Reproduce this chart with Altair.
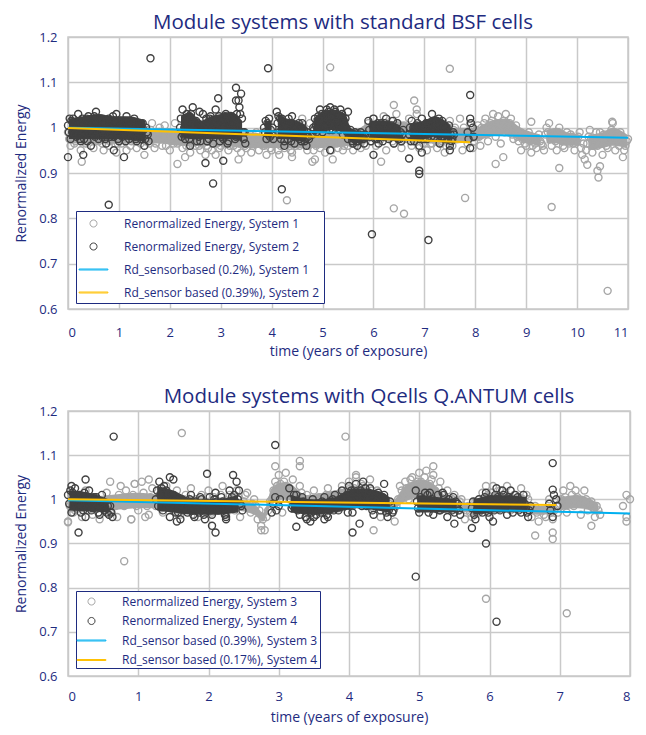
import altair as alt
import pandas as pd

NAVY = "#1E2B80"
FONT = "Open Sans"
GRID = "#C9C9C9"

# ---------------- top panel: standard BSF cells ----------------
TOP_TITLE = "Module systems with standard BSF cells"
TOP_SERIES = [
    "Renormalized Energy, System 1",
    "Renormalized Energy, System 2",
    "Rd_sensorbased (0.2%), System 1",
    "Rd_sensor based (0.39%), System 2",
]
STEP = 0.05  # sampling step of each listed run of energy values (years)

# System 1 (light grey): runs of values (start year, values)
SYS1_SEGMENTS = [
    (0.0, [0.99, 0.96, 1.01, 0.97, 1.0, 0.95, 0.99, 0.965, 1.015, 0.975, 0.955, 1.0, 0.97, 0.985, 0.95, 1.01, 0.96, 0.99, 0.975, 0.945,
           1.0, 0.965, 0.985, 0.95, 1.005, 0.97, 0.99, 0.955, 1.0, 0.975, 0.94, 0.995, 0.965, 1.01, 0.955, 0.985, 1.0, 0.96, 1.005, 0.975,
           0.95, 0.99, 1.01, 0.965, 0.985, 0.955, 1.0, 0.97, 0.945, 0.985, 0.96, 0.995, 0.95, 0.975, 0.99, 0.955, 0.98, 0.965, 0.94, 0.985,
           0.96, 0.995, 0.97, 0.95, 0.985, 0.96, 1.0, 0.975, 0.945, 0.99, 0.955, 0.98, 0.945, 0.97, 0.99, 0.95, 0.975, 0.96, 0.94, 0.98,
           0.95, 0.985, 0.965, 0.94, 0.975, 0.955, 0.99, 0.96, 0.945, 0.98, 1.0, 0.96, 1.02, 0.975, 0.95, 1.01, 0.965, 0.93, 0.99, 0.955,
           0.985, 0.945, 1.0, 0.965, 0.93, 0.98, 0.955, 0.995, 0.95, 0.975, 0.96, 0.985, 0.95, 0.97, 0.99, 0.955, 0.975, 0.96, 1.01, 0.97,
           1.02, 0.96, 1.0, 0.975, 1.025, 0.95, 0.99, 1.015, 0.965, 1.03, 0.985, 0.955, 1.005, 0.975, 1.02, 0.96, 0.99, 1.03, 0.955, 0.975,
           0.995, 0.95, 0.98, 0.965, 1.0, 0.955, 0.985, 0.97, 0.945, 0.99, 1.015, 0.96, 1.0, 0.975, 1.02, 0.95, 0.99, 0.965, 1.01, 0.955,
           0.985, 1.005, 0.96, 0.995, 1.02, 0.97, 1.01, 1.03, 0.98, 1.025, 0.965, 1.015, 1.03, 0.99, 1.02, 0.975, 1.005, 0.97, 0.95, 0.985,
           0.96, 0.99, 0.945, 0.975, 0.955, 0.985, 0.965, 0.95, 1.0, 1.01, 0.96, 0.985, 0.95, 1.0, 0.97, 0.955, 0.99, 0.965, 0.98, 0.95,
           0.97, 0.99, 0.94, 0.93, 0.965, 0.995, 0.945, 0.975, 0.96, 0.99, 0.94, 0.975, 0.955, 0.98, 1.01, 0.95, 0.97, 0.99, 0.935, 0.96,
           0.975]),
    (0.025, [0.975, 0.985, 0.965, 1.005, 0.98, 0.99, 0.97, 1.0, 0.98, 0.99, 0.97, 0.98, 1.005, 0.965, 0.995, 0.98, 0.97, 1.005, 0.985, 0.965,
             0.98, 0.995, 0.97, 0.985, 0.96, 0.99, 0.98, 0.995, 0.965, 0.99, 0.97, 0.98, 0.995, 0.975, 0.965, 0.99, 0.975, 0.985, 0.96, 0.99,
             0.975, 0.965, 0.98, 0.99, 0.97, 0.975, 0.96, 0.985, 0.965, 0.97, 0.98, 0.96, 0.975, 0.985, 0.96, 0.97, 0.95, 0.975, 0.965, 0.955,
             0.975, 0.965, 0.985, 0.96, 0.97, 0.98, 0.955, 0.965, 0.975, 0.96, 0.97, 0.985, 0.96, 0.98, 0.965, 0.975, 0.96, 0.985, 0.97, 0.955,
             0.965, 0.975, 0.95, 0.96, 0.985, 0.965, 0.975, 0.95, 0.97, 0.96, 0.99, 0.975, 1.0, 0.985, 0.96, 0.975, 0.95, 0.96, 0.975, 0.965,
             0.97, 0.96, 0.985, 0.95, 0.975, 0.965, 0.98, 0.97, 0.96, 0.985, 0.97, 0.965, 0.975, 0.98, 0.965, 0.97, 0.985, 0.975, 0.99, 0.985,
             0.99, 1.005, 0.98, 0.995, 1.01, 0.985, 1.0, 0.97, 0.995, 1.01, 0.97, 0.99, 0.98, 1.0, 0.985, 0.995, 0.975, 1.005, 0.985, 0.965,
             0.975, 0.985, 0.965, 0.98, 0.97, 0.99, 0.965, 0.975, 0.96, 0.97, 0.985, 0.995, 0.975, 0.99, 0.985, 1.0, 0.975, 0.99, 0.98, 0.97,
             0.995, 0.98, 1.0, 1.01, 1.0, 0.99, 1.015, 1.0, 1.01, 0.995, 1.005, 0.99, 1.0, 1.01, 0.985, 0.995, 0.98, 0.99, 0.975, 0.965,
             0.975, 0.97, 0.96, 0.965, 0.975, 0.97, 0.96, 0.985, 0.99, 0.975, 0.98, 0.97, 0.99, 0.98, 0.96, 0.975, 0.97, 0.985, 0.965, 0.97,
             0.98, 0.955, 0.965, 0.95, 0.98, 0.975, 0.96, 0.99, 0.975, 0.965, 0.985, 0.96, 0.97, 0.995, 0.975, 0.985, 0.96, 0.975, 0.95, 0.97]),
]
SYS1_OUT_T = [0.27, 2.15, 2.3, 2.7, 3.35, 4.3, 4.4, 4.8, 5.15, 6.15, 6.4, 6.6, 6.4, 6.8, 6.85, 7.5, 7.8, 8.4, 8.55, 9.1, 9.5, 9.65, 10.2, 10.4, 10.42, 10.45, 10.6, 10.69]
SYS1_OUT_V = [0.925, 0.92, 0.935, 0.94, 0.93, 0.84, 0.935, 0.925, 1.133, 0.925, 0.822, 0.81, 1.05, 1.06, 1.04, 1.13, 0.845, 0.92, 0.935, 1.013, 0.825, 0.911, 0.918, 0.905, 0.89, 0.915, 0.64, 1.013]
# dense core of the System 1 cloud: (years, lower edge, upper edge)
SYS1_CORE = [
    ([0.0, 0.5, 1.0, 1.5, 1.8, 2.2, 2.6, 3.0, 3.5, 4.0, 4.5, 5.0, 5.5, 5.9, 6.3, 6.7, 7.0, 7.5, 8.0, 8.3, 8.6, 8.9, 9.28],
     [0.965, 0.965, 0.965, 0.965, 0.965, 0.96, 0.96, 0.96, 0.955, 0.955, 0.955, 0.955, 0.96, 0.97, 0.97, 0.97, 0.965, 0.965, 0.97, 0.98, 0.985, 0.97, 0.96],
     [1.0, 1.0, 0.995, 0.995, 1.0, 0.995, 0.99, 0.99, 0.99, 0.985, 1.0, 0.99, 0.985, 1.01, 1.015, 1.01, 0.99, 1.0, 1.0, 1.015, 1.02, 1.0, 0.985]),
    ([9.4, 9.6, 9.8, 10.05], [0.965, 0.965, 0.96, 0.96], [0.995, 1.0, 0.99, 0.985]),
    ([10.22, 10.5, 10.7, 10.98], [0.95, 0.955, 0.96, 0.955], [0.985, 0.99, 1.0, 0.985]),
]

# System 2 (dark grey): runs of values (start year, values)
SYS2_SEGMENTS = [
    (0.0, [1.005, 0.975, 1.02, 0.99, 1.03, 0.97, 1.01, 0.985, 1.025, 0.96, 1.0, 1.035, 0.975, 1.015, 0.99, 0.965, 1.02, 1.0, 0.98, 1.03,
           0.97, 1.01, 0.985, 1.025, 0.975, 0.995, 1.02, 0.97, 1.005, 0.98, 0.96, 0.99]),
    (0.017, [0.99, 1.015, 1.0, 0.98, 1.01, 0.995, 0.975, 1.02, 0.99, 1.005, 1.025, 0.985, 1.0, 0.98, 1.01, 0.995, 1.005, 0.985, 1.015, 0.995,
             1.0, 0.98, 1.015, 0.995, 1.005, 0.985, 0.98, 1.0, 0.99, 1.01, 0.975, 0.985]),
    (0.033, [1.02, 0.99, 0.985, 1.01, 0.975, 1.02, 1.0, 0.97, 1.01, 0.99, 0.98, 1.01, 1.02, 0.99, 0.975, 1.01, 0.98, 1.025, 0.995, 0.975,
             1.015, 0.995, 0.97, 1.005, 0.99, 1.01, 0.975, 0.99, 0.975, 0.995, 1.0, 0.97]),
    (2.2, [1.0, 1.04, 0.975, 1.02, 0.96, 1.045, 0.99, 1.01, 0.97, 1.03, 0.985, 1.0, 1.025, 0.965, 1.04, 0.99, 1.015, 0.975, 1.03, 0.97,
           1.005, 1.02, 0.98, 1.06, 1.075, 0.975]),
    (2.217, [1.02, 0.985, 1.01, 0.995, 1.03, 1.0, 1.015, 0.98, 1.005, 0.99, 1.02, 0.975, 1.0, 1.015, 0.985, 1.025, 0.98, 1.005, 0.99, 1.015,
             0.985, 1.0, 1.03, 1.045, 1.02, 0.99]),
    (2.233, [0.98, 1.0, 1.03, 0.975, 0.99, 1.015, 0.97, 1.035, 0.99, 1.0, 0.97, 1.02, 0.985, 0.995, 1.01, 0.97, 1.0, 1.025, 0.965, 0.995,
             1.02, 0.975, 1.005, 1.03, 0.99, 0.965]),
    (3.85, [1.0, 0.975, 1.02, 0.985]),
    (3.867, [0.99, 1.01, 0.98, 1.0]),
    (3.883, [1.015, 0.985, 0.995, 0.975]),
    (4.1, [1.035, 0.99, 1.02, 0.97, 1.005, 0.985, 1.025, 0.965, 1.0, 0.975, 1.01, 0.97, 0.99]),
    (4.117, [1.01, 1.02, 0.985, 1.0, 0.975, 1.01, 0.99, 1.0, 0.98, 0.995, 0.985, 0.975, 0.98]),
    (4.133, [1.025, 0.975, 1.0, 0.99, 1.02, 0.97, 1.0, 0.985, 1.01, 0.97, 0.995, 0.96, 0.975]),
    (4.8, [0.985, 1.02, 1.0, 1.04, 0.99, 1.03, 1.015, 1.045, 0.995, 1.035, 1.01, 1.04, 0.985, 1.02, 0.975, 0.995, 0.965, 0.985, 0.97, 0.99, 0.975]),
    (4.817, [1.0, 1.005, 1.025, 1.01, 1.02, 1.005, 1.035, 1.01, 1.02, 1.0, 1.025, 1.005, 1.015, 1.0, 0.99, 0.98, 0.975, 0.97, 0.985, 0.975, 0.965]),
    (4.833, [0.995, 0.99, 1.015, 1.03, 1.0, 1.04, 0.995, 1.025, 1.04, 1.015, 0.995, 1.03, 1.0, 0.99, 0.985, 0.97, 0.99, 0.96, 0.975, 0.98, 0.985]),
    (5.9, [1.015, 0.97, 1.02, 0.99, 0.965, 1.01, 0.98, 1.02, 0.975, 1.005, 0.965, 0.995, 0.98, 0.97]),
    (5.917, [0.995, 0.985, 1.005, 0.975, 1.0, 0.99, 1.01, 0.985, 1.0, 0.98, 0.99, 1.01, 0.975, 0.985]),
    (5.933, [0.98, 1.005, 0.975, 1.01, 0.985, 0.97, 0.995, 1.0, 0.99, 1.015, 0.98, 0.975, 0.99, 0.995]),
    (6.7, [0.985, 1.015, 0.97, 1.0, 0.96, 1.02, 0.985, 0.975, 1.01, 1.03, 0.98, 1.0, 0.965, 1.015, 0.975, 0.99, 0.96, 0.975]),
    (6.717, [1.0, 0.99, 0.985, 1.01, 0.98, 1.0, 0.995, 1.01, 0.99, 1.005, 1.015, 0.985, 0.995, 0.98, 1.0, 0.975, 0.985, 0.99]),
    (6.733, [0.97, 1.0, 1.005, 0.98, 0.99, 0.975, 1.01, 0.995, 0.98, 1.0, 0.99, 1.02, 0.98, 1.0, 0.99, 1.005, 0.97, 0.985]),
    (7.85, [0.99, 0.955, 1.0]),
    (7.867, [0.975, 1.01, 0.98]),
]
SYS2_OUT_T = [0.0, 0.3, 0.8, 0.9, 1.1, 1.62, 2.7, 2.85, 3.05, 2.95, 3.3, 3.3, 3.93, 4.2, 4.25, 5.15, 5.5, 5.97, 6.0, 6.7, 6.9, 6.9, 6.95, 7.08, 7.9, 7.9, 7.5]
SYS2_OUT_V = [0.935, 0.94, 0.83, 0.95, 0.935, 1.153, 0.922, 0.877, 0.927, 1.065, 1.088, 1.06, 1.131, 0.864, 0.96, 0.95, 1.035, 0.765, 0.94, 0.932, 0.905, 0.898, 0.945, 0.752, 1.072, 1.02, 0.95]
SYS2_CORE = [
    ([0.02, 0.3, 0.6, 0.9, 1.2, 1.52], [0.975, 0.975, 0.975, 0.975, 0.973, 0.97], [1.02, 1.025, 1.03, 1.025, 1.025, 1.015]),
    ([2.22, 2.4, 2.6, 2.8, 3.0, 3.2, 3.42], [0.98, 0.975, 0.975, 0.975, 0.975, 0.975, 0.97], [1.025, 1.035, 1.015, 1.025, 1.03, 1.035, 1.015]),
    ([3.86, 4.0], [0.98, 0.98], [1.015, 1.015]),
    ([4.12, 4.3, 4.5, 4.68], [0.975, 0.975, 0.97, 0.97], [1.03, 1.02, 1.015, 1.005]),
    ([4.82, 5.0, 5.2, 5.45, 5.55, 5.78], [0.985, 0.99, 0.995, 0.985, 0.97, 0.965], [1.02, 1.035, 1.04, 1.03, 1.0, 0.99]),
    ([5.92, 6.2, 6.53], [0.975, 0.975, 0.97], [1.015, 1.015, 1.005]),
    ([6.72, 7.0, 7.2, 7.52], [0.97, 0.975, 0.98, 0.97], [1.01, 1.015, 1.025, 1.005]),
]

TOP_LINE1_T = [0.0, 11.0]
TOP_LINE1_V = [1.0, 0.978]
TOP_LINE2_T = [0.0, 7.9]
TOP_LINE2_V = [0.999, 0.968]

# ---------------- bottom panel: Q.ANTUM cells ----------------
BOT_TITLE = "Module systems with Qcells Q.ANTUM cells"
BOT_SERIES = [
    "Renormalized Energy, System 3",
    "Renormalized Energy, System 4",
    "Rd_sensor based (0.39%), System 3",
    "Rd_sensor based (0.17%), System 4",
]
SYS3_SEGMENTS = [
    (0.0, [0.95, 1.01, 0.975, 1.0, 0.96, 1.02, 0.985, 0.965, 1.005, 0.955, 0.99, 1.015, 0.97, 1.0, 0.96, 1.03, 0.985, 0.995, 0.955, 1.035,
           0.975, 1.04, 0.995, 0.965, 1.025, 0.985, 1.01, 0.97, 1.03, 0.995, 0.975, 1.02, 0.965, 1.0, 0.985, 1.025, 0.975, 0.96, 1.01, 0.99,
           1.02, 0.97, 1.0, 0.985, 1.03, 0.965, 1.01, 0.99, 1.02, 0.96, 0.995, 1.015, 0.97, 1.0, 0.955, 0.94, 0.93, 0.975, 1.0, 1.04,
           1.055, 1.02, 1.06, 1.0, 1.045, 0.99, 1.03, 0.975, 1.01, 0.96, 1.02, 0.985, 1.0, 0.97, 1.025, 0.99, 1.01, 0.98, 1.03, 1.0,
           1.04, 0.985, 1.05, 1.01, 1.03, 0.995, 1.045, 0.98, 1.02, 0.96, 0.995, 0.975, 0.985, 0.95, 1.0, 1.02, 1.04, 1.0, 1.05, 1.03,
           1.06, 1.015, 1.065, 1.035, 1.055, 1.0, 1.04, 0.98, 1.02, 0.99, 1.01, 0.975, 1.0, 0.955, 0.985, 0.96, 0.995, 0.97, 1.015, 1.03,
           1.0, 1.03, 0.985, 1.02, 0.995, 1.03, 0.975, 1.01, 0.99, 1.025, 0.98, 1.0, 0.96, 0.985, 0.95, 0.975, 0.96, 1.0, 0.955, 0.985,
           0.99, 1.02, 0.97, 1.03, 0.985, 1.005, 0.965, 1.02, 0.975, 0.995, 0.96, 0.975]),
    (0.025, [0.985, 0.97, 0.995, 0.98, 1.005, 0.975, 0.99, 1.0, 0.98, 0.995, 0.975, 0.985, 1.0, 0.985, 1.01, 0.99, 1.02, 1.0, 1.01, 0.985,
             1.0, 1.015, 0.985, 1.005, 0.99, 1.0, 0.98, 1.015, 0.99, 1.005, 0.99, 1.0, 0.985, 1.01, 0.995, 0.98, 1.0, 0.99, 0.975, 1.005,
             0.99, 1.005, 0.985, 1.01, 0.995, 0.985, 1.0, 0.975, 1.005, 0.985, 1.01, 0.98, 0.99, 0.985, 0.975, 0.955, 0.96, 0.995, 1.02, 1.03,
             1.035, 1.04, 1.025, 1.02, 1.01, 1.0, 1.015, 0.995, 0.985, 1.0, 0.995, 1.005, 0.985, 1.01, 1.0, 1.01, 0.995, 1.015, 1.01, 1.02,
             1.01, 1.025, 1.02, 1.035, 1.005, 1.015, 1.02, 1.005, 0.995, 0.985, 0.975, 0.99, 0.97, 0.985, 1.03, 1.01, 1.025, 1.045, 1.02, 1.04,
             1.04, 1.05, 1.025, 1.045, 1.02, 1.025, 1.01, 1.0, 1.005, 1.0, 0.99, 0.995, 0.985, 0.975, 0.97, 0.985, 0.98, 0.99, 1.0, 1.01,
             1.015, 1.005, 1.01, 1.0, 1.015, 1.005, 1.0, 0.995, 1.005, 1.0, 1.01, 0.98, 0.975, 0.97, 0.975, 0.965, 0.98, 0.97, 0.975, 0.97,
             1.0, 1.005, 0.995, 1.01, 1.02, 0.99, 0.995, 1.0, 0.99, 0.98, 0.985, 0.965]),
    (7.9, [0.985, 0.96, 1.0]),
]
SYS3_OUT_T = [0.0, 0.6, 0.8, 0.9, 0.95, 1.1, 1.15, 1.62, 2.75, 2.95, 3.05, 3.3, 3.3, 3.95, 4.1, 4.35, 5.2, 5.95, 6.65, 6.9, 6.9, 7.1, 7.45, 7.95, 7.95]
SYS3_OUT_V = [0.948, 1.04, 0.86, 0.955, 1.035, 0.96, 1.045, 1.15, 0.93, 1.075, 0.97, 1.075, 1.087, 1.142, 1.055, 0.93, 1.075, 0.775, 0.918, 0.91, 0.925, 0.742, 0.94, 1.01, 0.95]
SYS3_CORE = [
    ([0.0, 0.6, 1.0, 1.3, 1.8, 2.4, 2.65, 2.78, 2.9, 3.1, 3.4, 3.8, 4.2, 4.55, 4.8, 5.0, 5.2, 5.4, 5.7, 6.0, 6.4, 6.7, 6.95],
     [0.97, 0.975, 0.98, 0.98, 0.98, 0.975, 0.965, 0.95, 0.99, 1.0, 0.98, 0.985, 0.995, 0.97, 0.995, 1.005, 1.0, 0.985, 0.97, 0.985, 0.98, 0.965, 0.97],
     [1.0, 1.01, 1.015, 1.01, 1.005, 1.0, 0.99, 0.97, 1.025, 1.04, 1.01, 1.02, 1.03, 0.985, 1.03, 1.045, 1.035, 1.005, 0.99, 1.015, 1.01, 0.985, 0.99]),
    ([7.0, 7.25, 7.55], [0.975, 0.98, 0.97], [1.005, 1.01, 0.99]),
]

SYS4_SEGMENTS = [
    (0.0, [1.01, 0.97, 1.025, 0.985, 1.0, 0.96, 1.02, 0.98, 1.005, 0.965, 0.99, 0.97, 0.985]),
    (0.017, [0.99, 1.015, 0.995, 1.01, 0.975, 1.0, 0.99, 1.005, 0.985, 0.995, 0.975, 0.985, 0.97]),
    (0.033, [1.02, 0.985, 1.005, 0.97, 1.015, 0.985, 0.975, 0.995, 0.97, 1.01, 0.98, 0.965, 0.96]),
    (1.25, [1.0, 1.04, 0.975, 1.02, 0.96, 1.01, 0.985, 0.955, 0.995, 0.97, 1.01, 0.96, 0.985, 1.0, 0.955, 0.99, 0.965, 1.015, 0.975, 0.995,
            0.96, 1.02, 0.98, 1.04, 0.99]),
    (1.267, [1.02, 1.01, 1.03, 0.99, 1.0, 0.985, 0.97, 1.0, 0.98, 0.99, 0.975, 0.995, 0.97, 0.985, 0.975, 1.005, 0.98, 0.995, 0.99, 0.975,
             0.99, 0.995, 1.01, 1.0, 0.985]),
    (1.283, [0.985, 1.025, 0.995, 1.0, 0.98, 0.97, 1.0, 0.975, 0.985, 1.0, 0.965, 0.98, 1.005, 0.965, 0.985, 0.975, 1.0, 0.975, 1.005, 0.965,
             0.98, 1.005, 0.995, 1.02, 0.975]),
    (2.9, [0.97, 1.005, 0.985]),
    (2.917, [0.99, 0.975, 1.0]),
    (3.15, [1.025, 0.985, 1.01, 0.965, 0.995, 0.955, 0.98, 0.96, 0.99, 0.97, 1.005, 0.96, 0.985, 1.01, 0.975, 1.02, 0.99, 1.03, 0.97, 1.035,
            1.0, 1.04, 0.985, 1.025, 0.965, 1.0, 0.975, 1.01, 0.96, 0.985]),
    (3.167, [1.0, 1.01, 0.975, 0.985, 0.975, 0.99, 0.97, 0.985, 0.975, 0.995, 0.98, 0.975, 1.0, 0.99, 1.0, 1.005, 1.01, 1.0, 1.015, 1.01,
             1.02, 1.01, 1.005, 1.0, 0.99, 1.015, 0.99, 0.985, 0.975, 0.97]),
    (3.183, [0.98, 0.995, 0.99, 1.005, 0.96, 0.975, 1.0, 0.965, 0.98, 0.99, 0.965, 0.995, 0.975, 0.985, 0.99, 0.985, 0.97, 1.02, 0.99, 1.0,
             0.985, 1.025, 1.015, 0.975, 1.01, 0.985, 1.005, 0.97, 0.995, 0.975]),
    (4.95, [1.02, 0.97, 1.0, 0.985, 1.015, 0.965, 0.995, 0.975, 1.01, 0.96, 0.985, 0.97, 0.99]),
    (4.967, [0.995, 1.005, 0.985, 1.01, 0.99, 0.98, 1.01, 0.99, 0.98, 1.0, 0.975, 0.995, 0.975]),
    (4.983, [0.98, 0.99, 1.015, 0.97, 1.0, 0.995, 0.975, 1.015, 0.995, 0.985, 1.005, 0.98, 0.965]),
    (5.75, [0.98, 0.955, 1.0, 0.97, 1.015, 0.96, 0.99, 1.025, 0.975, 1.01, 0.965, 1.02, 0.985, 1.005, 0.97, 0.99, 0.96]),
    (5.767, [0.995, 0.975, 0.985, 0.99, 0.98, 1.0, 0.975, 1.005, 0.99, 0.995, 1.005, 0.99, 1.01, 0.975, 0.995, 0.98, 0.975]),
    (5.783, [0.965, 0.99, 0.975, 1.005, 0.97, 0.985, 1.01, 0.98, 1.02, 0.985, 1.0, 0.97, 0.995, 0.985, 1.01, 0.97, 0.985]),
    (6.85, [0.99, 0.96, 1.0]),
    (6.867, [0.975, 1.01, 0.985]),
]
SYS4_OUT_T = [0.15, 0.05, 0.25, 0.65, 1.45, 1.5, 1.55, 1.98, 2.05, 2.1, 2.25, 2.35, 2.95, 3.25, 3.45, 3.65, 4.05, 4.15, 4.5, 4.95, 5.5, 5.75, 5.95, 6.1, 6.05, 6.9, 6.9]
SYS4_OUT_V = [0.925, 1.03, 1.045, 1.142, 1.05, 1.045, 0.95, 1.058, 0.94, 0.925, 0.955, 1.055, 1.123, 0.938, 0.95, 0.955, 0.925, 0.945, 1.035, 0.825, 0.945, 0.935, 0.9, 0.723, 0.95, 1.082, 1.022]
SYS4_CORE = [
    ([0.02, 0.3, 0.58], [0.975, 0.973, 0.97], [1.02, 1.015, 1.0]),
    ([1.27, 1.5, 1.8, 2.1, 2.42], [0.975, 0.97, 0.965, 0.965, 0.97], [1.03, 1.02, 1.0, 1.0, 1.01]),
    ([3.17, 3.5, 3.8, 4.1, 4.4, 4.58], [0.97, 0.965, 0.97, 0.98, 0.975, 0.97], [1.01, 1.0, 1.005, 1.025, 1.02, 1.005]),
    ([4.97, 5.25, 5.53], [0.97, 0.97, 0.97], [1.01, 1.005, 1.0]),
    ([5.77, 6.1, 6.53], [0.965, 0.97, 0.97], [1.0, 1.01, 1.005]),
]

BOT_LINE3_T = [0.0, 8.0]
BOT_LINE3_V = [0.998, 0.968]
BOT_LINE4_T = [0.0, 6.95]
BOT_LINE4_V = [1.0, 0.987]

COLORS = ["#A6A6A6", "#404040", "#00B0F0", "#FFC000"]
Y_TICKS = [0.6, 0.7, 0.8, 0.9, 1.0, 1.1, 1.2]

CIRCLE_PATH = "M -0.44 0 A 0.44 0.44 0 1 0 0.44 0 A 0.44 0.44 0 1 0 -0.44 0 Z"
LINE_PATH = "M -1.8 -0.06 L 1.8 -0.06 L 1.8 0.06 L -1.8 0.06 Z"


def points_frame(segments, out_t, out_v, name):
    rows = []
    for start, vals in segments:
        for i, v in enumerate(vals):
            rows.append({"t": round(start + i * STEP, 3), "v": v, "series": name})
    for t, v in zip(out_t, out_v):
        rows.append({"t": t, "v": v, "series": name})
    return pd.DataFrame(rows)


def core_frame(core):
    rows = []
    for k, (ts, lo, hi) in enumerate(core):
        for t, a, b in zip(ts, lo, hi):
            rows.append({"t": t, "lo": a, "hi": b, "seg": k})
    return pd.DataFrame(rows)


def panel(title, series, seg_a, out_a, core_a, seg_b, out_b, core_b, line_a, line_b,
          xmax, w, h, title_dx, leg_x, leg_y, row_pad, pad, lab_pad, tit_pad):
    lines = pd.DataFrame(
        [{"t": t, "v": v, "series": series[2]} for t, v in zip(*line_a)]
        + [{"t": t, "v": v, "series": series[3]} for t, v in zip(*line_b)]
    )
    legend = alt.Legend(
        title=None, orient="none", legendX=leg_x, legendY=leg_y,
        strokeColor=NAVY, fillColor="white", padding=pad, rowPadding=row_pad,
        symbolSize=256, symbolStrokeWidth=1, symbolOffset=5, labelOffset=22,
        labelFont=FONT, labelFontSize=12, labelColor=NAVY, labelLimit=400,
        cornerRadius=0,
    )
    xscale = alt.Scale(domain=[0, xmax], nice=False, zero=False)
    yscale = alt.Scale(domain=[0.6, 1.2], nice=False, zero=False)
    xaxis = alt.Axis(values=list(range(xmax + 1)), format="d", title="time (years of exposure)",
                     labelPadding=lab_pad, titlePadding=tit_pad)
    yaxis = alt.Axis(values=Y_TICKS, format="~g", title="Renormalized Energy",
                     labelPadding=11, titlePadding=10)
    x = alt.X("t:Q", scale=xscale, axis=xaxis)
    y = alt.Y("v:Q", scale=yscale, axis=yaxis)
    color = alt.Color("series:N", scale=alt.Scale(domain=series, range=COLORS), legend=legend)
    shape = alt.Shape("series:N", scale=alt.Scale(domain=series,
                                                  range=[CIRCLE_PATH, CIRCLE_PATH, LINE_PATH, LINE_PATH]),
                      legend=legend)

    def cloud(df):
        return alt.Chart(df).mark_point(filled=False, size=256, strokeWidth=1.4, opacity=1).encode(
            x=x, y=y, color=color, shape=shape)

    def core(df, col):
        return alt.Chart(df).mark_area(color=col, opacity=1, interpolate="monotone").encode(
            x=x, y=alt.Y("lo:Q", scale=yscale, axis=yaxis), y2="hi:Q", detail="seg:N")

    layers = [
        core(core_frame(core_a), COLORS[0]),
        cloud(points_frame(seg_a, out_a[0], out_a[1], series[0])),
        core(core_frame(core_b), COLORS[1]),
        cloud(points_frame(seg_b, out_b[0], out_b[1], series[1])),
        alt.Chart(lines).mark_line(strokeWidth=2).encode(x=x, y=y, color=color, detail="series:N"),
    ]
    return alt.layer(*layers).properties(
        width=w, height=h,
        title=alt.TitleParams(title, dx=title_dx, offset=-2),
    )


top = panel(TOP_TITLE, TOP_SERIES, SYS1_SEGMENTS, (SYS1_OUT_T, SYS1_OUT_V), SYS1_CORE,
            SYS2_SEGMENTS, (SYS2_OUT_T, SYS2_OUT_V), SYS2_CORE,
            (TOP_LINE1_T, TOP_LINE1_V), (TOP_LINE2_T, TOP_LINE2_V),
            11, 560, 272, -5, 8, 174, 8, 4, 17, 5)
bot = panel(BOT_TITLE, BOT_SERIES, SYS3_SEGMENTS, (SYS3_OUT_T, SYS3_OUT_V), SYS3_CORE,
            SYS4_SEGMENTS, (SYS4_OUT_T, SYS4_OUT_V), SYS4_CORE,
            (BOT_LINE3_T, BOT_LINE3_V), (BOT_LINE4_T, BOT_LINE4_V),
            8, 562, 265, 20, 8, 180, 4.5, 2, 14, 7)

chart = alt.vconcat(top, bot, spacing=26).resolve_scale(
    color="independent", shape="independent", x="independent", y="independent"
).resolve_legend(color="independent", shape="independent").properties(
    padding={"left": 5, "top": 3, "right": 0, "bottom": 0}
).configure(
    background="white"
).configure_view(
    stroke=GRID, strokeWidth=1.5
).configure_axis(
    gridColor=GRID, gridWidth=1.5, domain=False, ticks=False,
    labelColor=NAVY, titleColor=NAVY, labelFont=FONT, titleFont=FONT,
    labelFontSize=13, titleFontSize=14, titleFontWeight="normal",
).configure_title(
    font=FONT, fontSize=20.5, color=NAVY, fontWeight="normal", anchor="middle"
)

chart.save("out.html", embed_options={"renderer": "svg", "actions": False})
